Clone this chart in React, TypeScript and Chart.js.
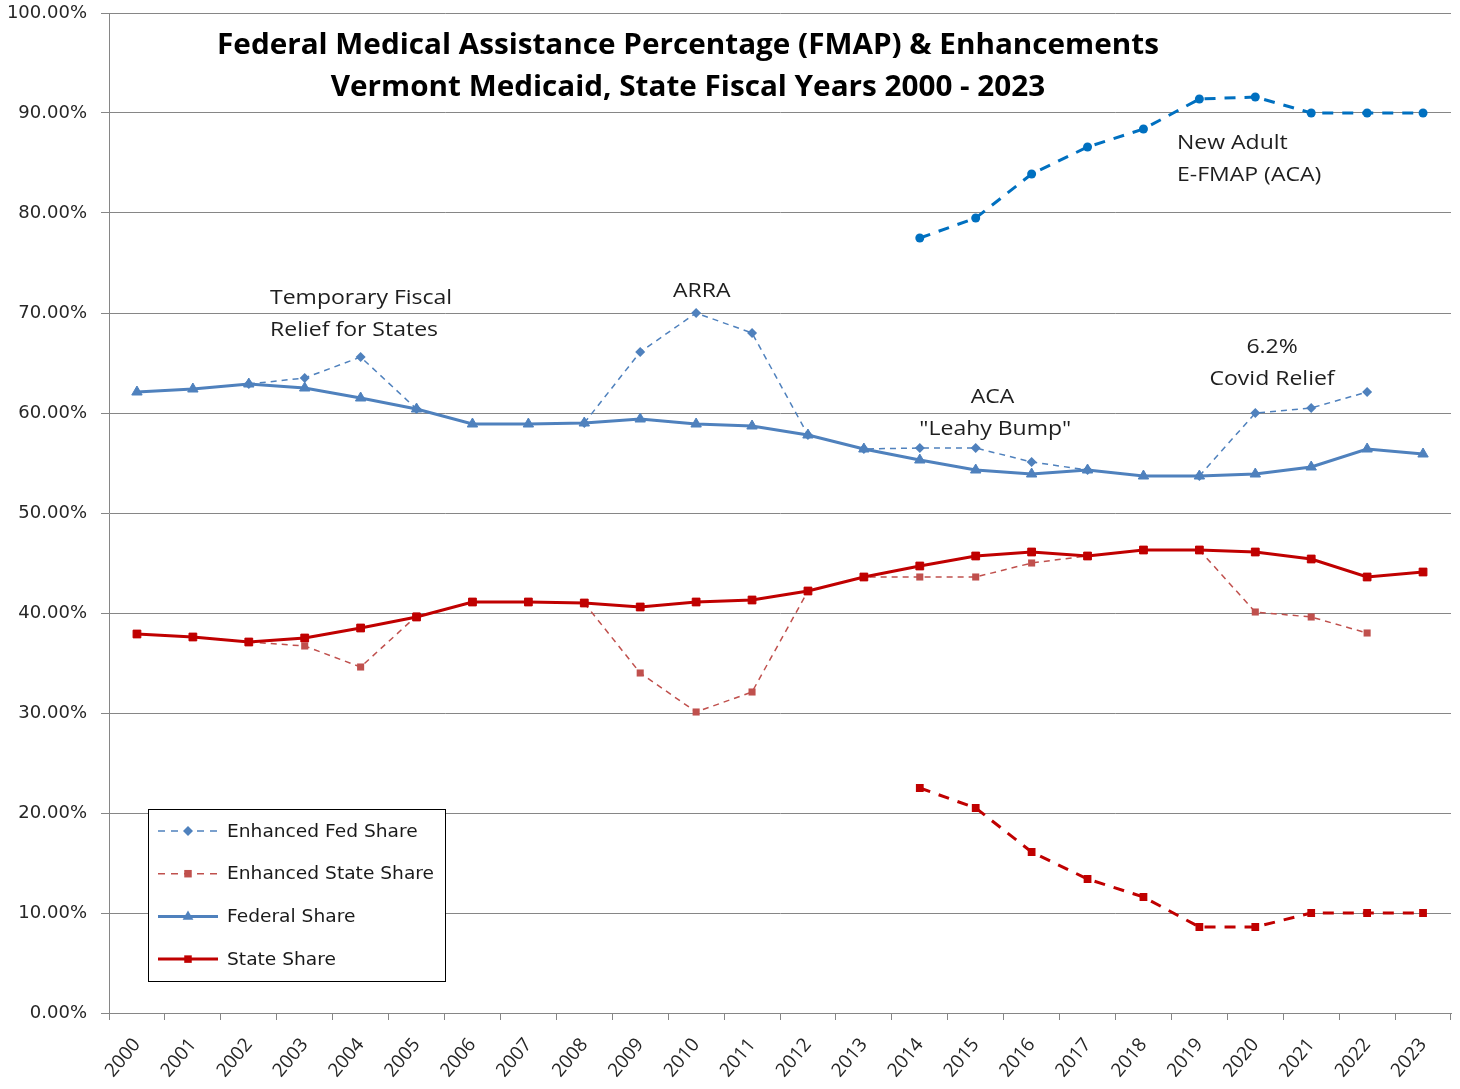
import React, { useEffect, useRef } from 'react';
import { Chart, registerables } from 'chart.js';

Chart.register(...registerables);

// ---- data ----
const years = [
  '2000', '2001', '2002', '2003', '2004', '2005', '2006', '2007', '2008', '2009', '2010', '2011',
  '2012', '2013', '2014', '2015', '2016', '2017', '2018', '2019', '2020', '2021', '2022', '2023',
];

const federalShare = [
  62.1, 62.4, 62.9, 62.5, 61.5, 60.4, 58.9, 58.9, 59.0, 59.4, 58.9, 58.7,
  57.8, 56.4, 55.3, 54.3, 53.9, 54.3, 53.7, 53.7, 53.9, 54.6, 56.4, 55.9,
];

const stateShare = [
  37.9, 37.6, 37.1, 37.5, 38.5, 39.6, 41.1, 41.1, 41.0, 40.6, 41.1, 41.3,
  42.2, 43.6, 44.7, 45.7, 46.1, 45.7, 46.3, 46.3, 46.1, 45.4, 43.6, 44.1,
];

const enhancedFedShare = [
  null, null, 62.9, 63.5, 65.6, 60.4, null, null, 59.0, 66.1, 70.0, 68.0,
  57.8, 56.4, 56.5, 56.5, 55.1, 54.3, null, 53.7, 60.0, 60.5, 62.1, null,
];

const enhancedStateShare = [
  null, null, 37.1, 36.7, 34.6, 39.7, null, null, 41.0, 34.0, 30.1, 32.1,
  42.2, 43.6, 43.6, 43.6, 45.0, 45.7, null, 46.3, 40.1, 39.6, 38.0, null,
];

const newAdultFedShare = [
  null, null, null, null, null, null, null, null, null, null, null, null,
  null, null, 77.5, 79.5, 83.9, 86.6, 88.4, 91.4, 91.6, 90.0, 90.0, 90.0,
];

const newAdultStateShare = [
  null, null, null, null, null, null, null, null, null, null, null, null,
  null, null, 22.5, 20.5, 16.1, 13.4, 11.6, 8.6, 8.6, 10.0, 10.0, 10.0,
];

const yTicks = [0, 10, 20, 30, 40, 50, 60, 70, 80, 90, 100];

const titleLines = [
  'Federal Medical Assistance Percentage (FMAP) & Enhancements',
  'Vermont Medicaid, State Fiscal Years 2000 - 2023',
];

const legendLabels = ['Enhanced Fed Share', 'Enhanced State Share', 'Federal Share', 'State Share'];

// annotation text: [text, category position, value, alignment]
const annotationTexts: [string, number, number, CanvasTextAlign][] = [
  ['Temporary Fiscal', 2.38, 71.5, 'left'],
  ['Relief for States', 2.38, 68.3, 'left'],
  ['ARRA', 10.1, 72.2, 'center'],
  ['ACA', 15.3, 61.6, 'center'],
  ['"Leahy Bump"', 15.35, 58.4, 'center'],
  ['6.2%', 20.3, 66.6, 'center'],
  ['Covid Relief', 20.3, 63.4, 'center'],
  ['New Adult', 18.6, 87.0, 'left'],
  ['E-FMAP (ACA)', 18.6, 83.8, 'left'],
];

// ---- styles ----
const BLUE = '#4F81BD';
const BLUE2 = '#0070C0';
const RED = '#C00000';
const RED2 = '#C0504D';
const GRID = '#868686';

function drawMarker(ctx: CanvasRenderingContext2D, kind: string, x: number, y: number, r: number, color: string) {
  ctx.save();
  ctx.setLineDash([]);
  ctx.fillStyle = color;
  ctx.strokeStyle = color;
  ctx.beginPath();
  if (kind === 'diamond') {
    ctx.moveTo(x, y - r);
    ctx.lineTo(x + r, y);
    ctx.lineTo(x, y + r);
    ctx.lineTo(x - r, y);
    ctx.closePath();
  } else if (kind === 'triangle') {
    ctx.moveTo(x, y - r);
    ctx.lineTo(x + r * 0.9, y + r * 0.55);
    ctx.lineTo(x - r * 0.9, y + r * 0.55);
    ctx.closePath();
  } else {
    ctx.rect(x - r * 0.75, y - r * 0.75, r * 1.5, r * 1.5);
  }
  ctx.fill();
  ctx.restore();
}

function stretchedText(ctx: CanvasRenderingContext2D, text: string, x: number, y: number, align: CanvasTextAlign, sx: number) {
  ctx.save();
  ctx.translate(x, y);
  ctx.scale(sx, 1);
  ctx.textAlign = align;
  ctx.fillText(text, 0, 0);
  ctx.restore();
}

const overlayPlugin = {
  id: 'overlay',
  afterDraw(chart: any) {
    const ctx: CanvasRenderingContext2D = chart.ctx;
    const xs = chart.scales.x;
    const ys = chart.scales.y;
    const area = chart.chartArea;

    // title
    ctx.save();
    ctx.fillStyle = '#000';
    ctx.font = 'bold 28px "Open Sans"';
    ctx.textBaseline = 'middle';
    const cx = area.left + 579;
    stretchedText(ctx, titleLines[0], cx, ys.getPixelForValue(96.7), 'center', 1.06);
    stretchedText(ctx, titleLines[1], cx, ys.getPixelForValue(92.5), 'center', 1.06);
    ctx.restore();

    // annotations
    ctx.save();
    ctx.fillStyle = '#1e1e1e';
    ctx.font = '20px "Open Sans"';
    ctx.textBaseline = 'middle';
    for (const [text, cat, val, align] of annotationTexts) {
      stretchedText(ctx, text, xs.getPixelForValue(cat), ys.getPixelForValue(val), align, 1.15);
    }
    ctx.restore();

    // legend box
    const bx = area.left + 39;
    const by = ys.getPixelForValue(20.4);
    const bw = 297;
    const bh = 172;
    ctx.save();
    ctx.fillStyle = '#fff';
    ctx.fillRect(bx, by, bw, bh);
    ctx.strokeStyle = '#000';
    ctx.lineWidth = 1;
    ctx.strokeRect(bx + 0.5, by + 0.5, bw, bh);
    const styles = [
      { color: BLUE, width: 1.5, dash: [7, 6], marker: 'diamond', r: 5 },
      { color: RED2, width: 1.5, dash: [7, 6], marker: 'square', r: 5 },
      { color: BLUE, width: 3, dash: [], marker: 'triangle', r: 6 },
      { color: RED, width: 3, dash: [], marker: 'square', r: 5 },
    ];
    ctx.font = '18px "DejaVu Sans"';
    ctx.textBaseline = 'middle';
    legendLabels.forEach((label, i) => {
      const s = styles[i];
      const y = by + 22 + i * 42.7;
      ctx.strokeStyle = s.color;
      ctx.lineWidth = s.width;
      ctx.setLineDash(s.dash);
      ctx.beginPath();
      ctx.moveTo(bx + 10, y);
      ctx.lineTo(bx + 70, y);
      ctx.stroke();
      drawMarker(ctx, s.marker, bx + 40, y, s.r, s.color);
      ctx.fillStyle = '#1a1a1a';
      stretchedText(ctx, label, bx + 79, y + 1, 'left', 1.035);
    });
    ctx.restore();
  },
};

export default function App() {
  const ref = useRef<HTMLCanvasElement>(null);

  useEffect(() => {
    if (!ref.current) return;
    const chart = new Chart(ref.current, {
      type: 'line',
      data: {
        labels: years,
        datasets: [
          {
            label: 'Enhanced Fed Share',
            data: enhancedFedShare,
            borderColor: BLUE,
            backgroundColor: BLUE,
            borderWidth: 1.5,
            borderDash: [6, 5],
            pointStyle: 'rectRot',
            pointRadius: 5,
            pointBorderWidth: 0,
            spanGaps: false,
            order: 2,
          },
          {
            label: 'Enhanced State Share',
            data: enhancedStateShare,
            borderColor: RED2,
            backgroundColor: RED2,
            borderWidth: 1.5,
            borderDash: [6, 5],
            pointStyle: 'rect',
            pointRadius: 5,
            pointBorderWidth: 0,
            spanGaps: false,
            order: 2,
          },
          {
            label: 'Federal Share',
            data: federalShare,
            borderColor: BLUE,
            backgroundColor: BLUE,
            borderWidth: 3,
            pointStyle: 'triangle',
            pointRadius: 6,
            pointBorderWidth: 1,
            order: 1,
          },
          {
            label: 'State Share',
            data: stateShare,
            borderColor: RED,
            backgroundColor: RED,
            borderWidth: 3,
            pointStyle: 'rect',
            pointRadius: 5.5,
            pointBorderWidth: 1,
            order: 1,
          },
          {
            label: 'New Adult E-FMAP',
            data: newAdultFedShare,
            borderColor: BLUE2,
            backgroundColor: BLUE2,
            borderWidth: 3,
            borderDash: [11, 9],
            pointStyle: 'circle',
            pointRadius: 4.5,
            pointBorderWidth: 0,
            order: 1,
          },
          {
            label: 'New Adult State Share',
            data: newAdultStateShare,
            borderColor: RED,
            backgroundColor: RED,
            borderWidth: 3,
            borderDash: [11, 9],
            pointStyle: 'rect',
            pointRadius: 5.5,
            pointBorderWidth: 0,
            order: 1,
          },
        ],
      },
      options: {
        responsive: false,
        animation: false,
        devicePixelRatio: 1,
        layout: { padding: { top: 13, right: 9, left: 0, bottom: 0 } },
        elements: { line: { tension: 0 } },
        plugins: {
          legend: { display: false },
          title: { display: false },
          tooltip: { enabled: false },
        },
        scales: {
          x: {
            type: 'category',
            offset: true,
            grid: {
              offset: true,
              drawOnChartArea: false,
              drawTicks: true,
              tickLength: 7,
              color: GRID,
            },
            border: { color: GRID, width: 1 },
            ticks: {
              autoSkip: false,
              maxRotation: 50,
              minRotation: 50,
              padding: 14,
              color: '#262626',
              font: { family: 'Open Sans', size: 19 },
            },
            afterFit: (s: any) => {
              s.height = 76;
            },
          },
          y: {
            min: 0,
            max: 100,
            afterBuildTicks: (s: any) => {
              s.ticks = yTicks.map((v) => ({ value: v }));
            },
            grid: { color: GRID, tickLength: 8, lineWidth: 1 },
            border: { color: GRID, width: 1 },
            ticks: {
              padding: 14,
              color: '#262626',
              font: { family: 'DejaVu Sans', size: 18 },
              callback: (v: any) => `${Number(v).toFixed(2)}%`,
            },
            afterFit: (s: any) => {
              s.width = 109;
              s.paddingTop = 0;
              s.paddingBottom = 0;
            },
          },
        },
      },
      plugins: [overlayPlugin],
    });

    const fontsToLoad = ['bold 28px "Open Sans"', '20px "Open Sans"', '19px "Open Sans"', '18px "DejaVu Sans"'];
    if ((document as any).fonts) {
      Promise.all(fontsToLoad.map((f) => (document as any).fonts.load(f)))
        .then(() => chart.update())
        .catch(() => {});
    }

    return () => chart.destroy();
  }, []);

  return (
    <div style={{ position: 'absolute', left: 0, top: 0, width: 1460, height: 1089, background: '#fff' }}>
      <canvas ref={ref} width={1460} height={1089} style={{ display: 'block' }} />
    </div>
  );
}
